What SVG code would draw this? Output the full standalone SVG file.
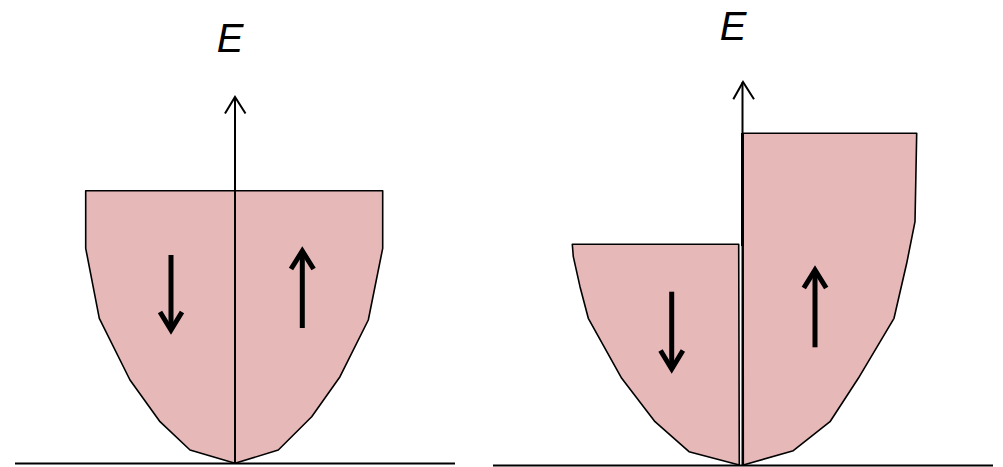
<svg xmlns="http://www.w3.org/2000/svg" width="1003" height="467" viewBox="0 0 1003 467">
<style>
.band{fill:#E6B8B8;stroke:#000;stroke-width:1.6;stroke-linejoin:round}
.axis{fill:none;stroke:#000;stroke-width:2}
.base{fill:none;stroke:#000;stroke-width:2}
.spin{fill:none;stroke:#000;stroke-width:5;stroke-linejoin:miter;stroke-miterlimit:10}
.lbl{font-family:"Liberation Sans",Arial,sans-serif;font-style:italic;font-size:40px;fill:#000;text-anchor:middle}
</style>
<rect width="1003" height="467" fill="#fff"/>
<g id="left-diagram">
  <g id="left-down-band">
    <polygon class="band" points="235,190.7 85.7,190.7 85.7,248.3 99.3,318.3 130,380 160,421.7 190,450 235,463.3"/>
  </g>
  <g id="left-up-band">
    <polygon class="band" points="235,190.7 382.7,190.7 382.7,248.3 368.3,320 340,376.7 311.7,416.7 278.3,450 235,463.3"/>
  </g>
  <g id="left-spin-down">
    <line class="spin" x1="171" y1="255" x2="171" y2="330"/>
    <polyline class="spin" points="160,312 171,330 182,312"/>
  </g>
  <g id="left-spin-up">
    <line class="spin" x1="302.3" y1="328" x2="302.3" y2="251"/>
    <polyline class="spin" points="291,269 302.3,251 313.6,269"/>
  </g>
  <g id="left-axis">
    <line class="axis" x1="235" y1="463" x2="235" y2="97"/>
    <polyline class="axis" points="225,113.5 235,97 245.5,113.5"/>
    <text class="lbl" x="230" y="52">E</text>
  </g>
  <line class="base" x1="15" y1="463.5" x2="455" y2="463.5"/>
</g>
<g id="right-diagram">
  <g id="right-down-band">
    <polygon class="band" points="738.7,244.3 572.3,244.3 573.3,256.7 580,286.7 588.3,318.3 621.7,378.3 655,421.7 689,451.7 739.3,465"/>
  </g>
  <g id="right-up-band">
    <polygon class="band" points="743,133.3 916.7,133.3 915,221.7 906.7,263.3 894,318.3 858.3,378.3 830,421.7 793.3,450.7 743.3,465"/>
  </g>
  <g id="right-spin-down">
    <line class="spin" x1="671.7" y1="291.7" x2="671.7" y2="369"/>
    <polyline class="spin" points="660.5,350.5 671.7,369 682.9,350.5"/>
  </g>
  <g id="right-spin-up">
    <line class="spin" x1="815" y1="347.3" x2="815" y2="270"/>
    <polyline class="spin" points="803.8,288 815,270 826.2,288"/>
  </g>
  <g id="right-axis">
    <line class="axis" x1="742.5" y1="465" x2="742.5" y2="82"/>
    <line class="axis" x1="742.5" y1="133" x2="742.5" y2="246" style="stroke-width:3"/>
    <polyline class="axis" points="733.3,99.3 743,82 754,99.3"/>
    <text class="lbl" x="733" y="40">E</text>
  </g>
  <line class="base" x1="493" y1="465.5" x2="993" y2="465.5"/>
</g>
</svg>
